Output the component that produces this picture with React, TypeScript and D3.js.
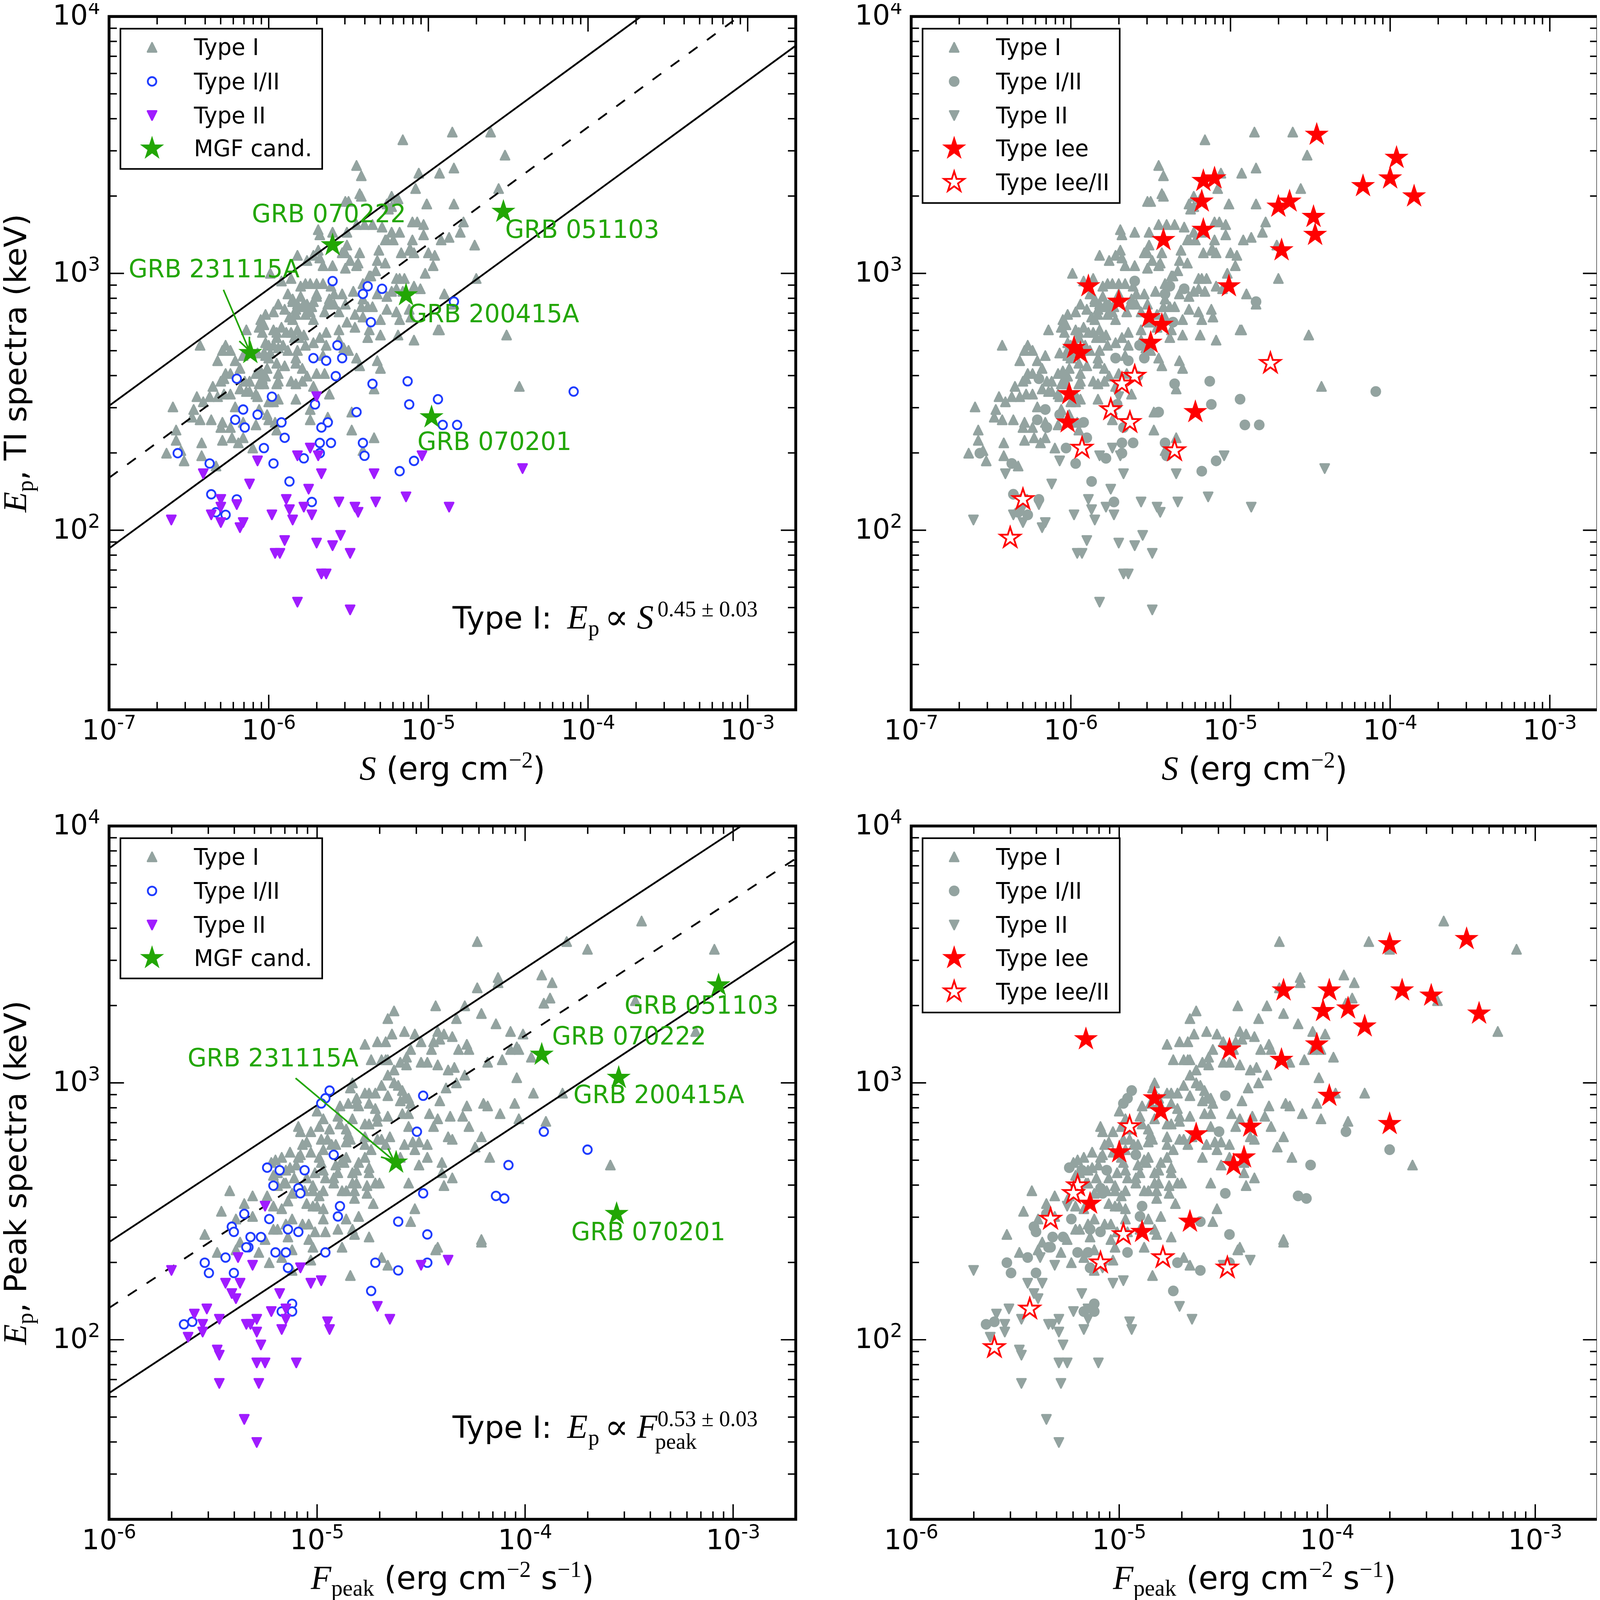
import React from 'react';
import * as d3 from 'd3';

// values are log10 readings off the reference axes: [log10 x, log10 Ep]
type Pair = [number, number];

const typeIFluence: Pair[] = [
[-5.69,3.17],[-5.68,3.15],[-5.60,3.16],[-5.51,3.16],[-5.45,3.19],[-5.40,3.19],[-5.35,3.19],[-5.29,3.18],[-5.23,3.16],[-5.18,3.16],
[-5.26,3.13],[-5.22,3.13],[-5.27,3.13],[-5.10,3.13],[-5.03,3.15],[-5.10,3.20],[-5.07,3.20],[-5.03,3.19],[-5.01,3.27],[-5.50,3.28],
[-5.25,3.25],[-5.23,3.26],[-5.42,3.30],[-5.19,3.29],[-5.82,3.07],[-5.76,3.05],[-5.72,3.07],[-5.69,3.09],[-5.68,3.06],[-5.66,3.03],
[-5.60,3.03],[-5.52,3.02],[-5.54,3.08],[-5.52,3.08],[-5.51,3.11],[-5.49,3.05],[-5.45,3.03],[-5.44,3.04],[-5.43,3.08],[-5.31,3.09],
[-5.32,3.05],[-5.27,3.04],[-5.17,3.08],[-5.12,3.09],[-5.11,3.09],[-5.09,3.08],[-5.00,3.08],[-4.96,3.07],[-4.97,3.03],[-5.02,3.00],
[-5.36,2.99],[-5.33,3.01],[-5.41,2.96],[-5.37,2.99],[-5.20,2.98],[-5.18,2.98],[-5.15,2.98],[-5.09,2.95],[-5.05,2.94],[-5.20,2.94],
[-5.23,2.93],[-5.26,2.91],[-5.16,2.93],[-5.32,2.92],[-5.41,2.90],[-5.47,2.93],[-5.54,2.92],[-5.59,2.92],[-5.61,2.95],[-5.99,3.00],
[-5.92,2.97],[-5.86,2.98],[-5.80,2.95],[-5.77,2.96],[-5.74,2.96],[-5.70,2.96],[-5.66,2.96],[-5.70,2.92],[-5.70,2.91],[-5.80,2.91],
[-5.88,2.92],[-5.85,2.90],[-5.85,2.89],[-5.82,2.88],[-5.78,2.88],[-5.76,2.88],[-5.72,2.89],[-5.73,2.87],[-5.62,2.90],[-5.59,2.88],
[-5.52,2.88],[-5.56,2.85],[-5.63,2.88],[-5.65,2.85],[-5.46,2.84],[-5.41,2.83],[-5.42,2.87],[-5.38,2.87],[-5.35,2.87],[-5.26,2.86],
[-5.20,2.85],[-5.30,2.82],[-5.18,2.82],[-5.51,2.81],[-5.46,2.79],[-5.11,2.83],[-5.12,2.86],[-4.93,2.78],[-5.09,2.74],[-5.19,2.76],
[-5.30,2.76],[-5.37,2.78],[-5.38,2.75],[-5.56,2.78],[-5.56,2.74],[-5.64,2.77],[-5.68,2.75],[-6.14,2.78],[-6.03,2.80],[-6.02,2.84],
[-5.97,2.85],[-5.94,2.88],[-5.90,2.86],[-5.87,2.83],[-5.85,2.82],[-5.83,2.84],[-5.77,2.84],[-5.74,2.85],[-5.72,2.82],[-5.82,2.78],
[-5.89,2.77],[-5.92,2.79],[-5.97,2.78],[-6.04,2.77],[-6.06,2.79],[-6.05,2.82],[-5.78,2.76],[-5.72,2.73],[-5.77,2.72],[-5.82,2.70],
[-5.91,2.72],[-5.95,2.75],[-5.97,2.72],[-6.00,2.72],[-6.02,2.73],[-5.94,2.71],[-5.88,2.70],[-6.02,2.68],[-6.00,2.67],[-5.95,2.65],
[-5.90,2.64],[-5.83,2.67],[-5.83,2.65],[-5.79,2.63],[-5.76,2.60],[-5.70,2.61],[-5.65,2.61],[-5.64,2.72],[-5.66,2.68],[-5.50,2.70],
[-5.53,2.71],[-5.45,2.67],[-5.43,2.64],[-5.32,2.66],[-5.30,2.63],[-5.72,2.56],[-5.79,2.58],[-5.83,2.57],[-5.86,2.58],[-5.94,2.61],
[-5.94,2.58],[-5.95,2.57],[-6.02,2.60],[-6.03,2.57],[-6.06,2.57],[-6.05,2.62],[-6.08,2.61],[-6.01,2.63],[-6.21,2.66],[-6.18,2.63],
[-6.27,2.61],[-6.24,2.61],[-6.28,2.59],[-6.30,2.58],[-6.35,2.56],[-6.24,2.53],[-6.28,2.53],[-6.32,2.52],[-6.37,2.52],[-6.41,2.50],
[-6.45,2.52],[-6.60,2.48],[-6.47,2.47],[-6.48,2.44],[-6.43,2.43],[-6.36,2.43],[-6.29,2.42],[-6.30,2.40],[-6.24,2.40],[-6.58,2.39],
[-6.58,2.35],[-6.64,2.30],[-6.55,2.31],[-6.53,2.27],[-6.42,2.34],[-6.42,2.29],[-6.33,2.25],[-6.29,2.35],[-6.23,2.36],[-6.19,2.34],
[-6.16,2.36],[-6.21,2.48],[-6.16,2.42],[-6.18,2.55],[-6.15,2.58],[-6.12,2.58],[-6.12,2.54],[-6.08,2.53],[-6.07,2.52],[-5.94,2.51],
[-5.97,2.50],[-6.00,2.50],[-5.83,2.51],[-6.06,2.47],[-6.01,2.45],[-6.00,2.43],[-5.96,2.42],[-6.08,2.41],[-5.95,2.39],[-6.10,2.32],
[-5.62,2.53],[-5.74,2.47],[-5.63,2.44],[-5.74,2.43],[-5.48,2.39],[-5.48,2.46],[-5.34,2.55],[-5.34,2.36],[-5.41,2.31],[-6.32,2.66],
[-6.29,2.70],[-6.27,2.72],[-6.24,2.70],[-6.16,2.68],[-6.07,2.69],[-6.03,2.69],[-6.43,2.72],[-5.83,2.86],[-5.79,2.87],[-5.75,2.86],
[-5.95,2.77],[-5.86,2.77],[-5.84,2.75],[-5.81,2.75],[-5.99,2.69],[-6.04,2.59],[-6.14,2.54],
[-5.16,3.52],[-4.85,3.55],[-4.61,3.55],[-4.52,3.46],[-4.84,3.41],[-4.93,3.39],[-5.06,3.39],[-5.08,3.33],[-5.45,3.42],[-5.42,3.38],
[-5.43,3.31],[-5.52,3.28],[-5.23,3.30],[-5.26,3.27],[-4.56,3.33],[-5.01,3.27],[-4.84,3.27],[-4.78,3.20],[-4.80,3.16],[-4.87,3.14],
[-4.92,3.13],[-4.71,3.11],[-4.70,2.98],[-4.90,2.92],[-4.94,2.78],[-4.51,2.76],[-4.43,2.56],[-4.84,2.88],
];
const typeIIIFluence: Pair[] = [
[-5.60,2.97],[-5.38,2.95],[-5.29,2.94],[-5.41,2.92],[-5.36,2.81],[-5.57,2.72],[-5.72,2.67],[-5.64,2.66],[-5.54,2.67],[-5.58,2.60],
[-6.20,2.59],[-5.98,2.52],[-5.35,2.57],[-5.13,2.58],[-5.12,2.49],[-4.94,2.51],[-5.71,2.49],[-6.16,2.47],[-6.07,2.45],[-6.21,2.43],
[-6.15,2.40],[-5.92,2.42],[-5.45,2.46],[-5.63,2.42],[-5.67,2.40],[-5.90,2.36],[-5.68,2.34],[-5.61,2.34],[-5.41,2.34],[-5.40,2.29],
[-6.03,2.32],[-6.57,2.30],[-6.37,2.26],[-5.97,2.26],[-5.78,2.28],[-5.68,2.30],[-5.09,2.27],[-5.18,2.23],[-5.87,2.19],[-4.91,2.41],
[-4.84,2.89],[-4.09,2.54],[-4.82,2.41],[-6.36,2.14],[-5.73,2.11],[-6.20,2.12],[-6.33,2.07],[-6.27,2.06],
];
const typeIIFluence: Pair[] = [
[-6.61,2.04],[-6.41,2.22],[-6.30,2.12],[-6.30,2.09],[-6.36,2.06],[-6.30,2.03],[-6.20,2.10],[-6.16,2.03],[-6.18,2.01],[-6.12,2.18],
[-6.07,2.27],[-5.98,2.06],[-5.89,2.12],[-5.87,2.08],[-5.85,2.04],[-5.90,1.96],[-5.96,1.91],[-5.93,1.91],[-5.82,2.29],[-5.74,2.32],
[-5.69,2.29],[-5.67,2.22],[-5.75,2.16],[-5.78,2.09],[-5.73,2.06],[-5.70,2.52],[-5.70,1.95],[-5.60,1.94],[-5.55,1.98],[-5.56,2.11],
[-5.46,2.09],[-5.44,2.07],[-5.34,2.22],[-5.33,2.11],[-5.49,1.91],[-5.67,1.83],[-5.64,1.83],[-5.82,1.72],[-5.49,1.69],[-5.14,2.13],
[-4.87,2.09],[-5.04,2.29],[-4.41,2.24],
];
const mgfFluence: Pair[] = [[-5.60,3.11],[-4.53,3.24],[-5.14,2.915],[-6.115,2.69],[-4.98,2.44]];
const iePeakFluence: Pair[] = [
[-4.46,3.54],[-3.96,3.45],[-4.00,3.37],[-4.17,3.34],[-3.85,3.30],[-5.17,3.36],[-5.10,3.37],[-5.18,3.28],[-4.70,3.26],[-4.63,3.28],
[-4.48,3.22],[-4.47,3.15],[-5.17,3.17],[-5.42,3.13],[-4.68,3.09],[-5.01,2.95],[-5.89,2.95],[-5.70,2.89],[-5.51,2.83],[-5.43,2.80],
[-5.50,2.73],[-5.98,2.71],[-5.94,2.69],[-6.01,2.53],[-6.02,2.42],[-5.22,2.46],
];
const ieIIFluence: Pair[] = [
[-4.75,2.65],[-5.60,2.60],[-5.68,2.57],[-5.75,2.47],[-5.63,2.42],[-5.93,2.32],[-5.35,2.31],[-6.30,2.12],[-6.38,1.97],
];

const typeIPeak: Pair[] = [
[-4.77,3.15],[-4.71,3.16],[-4.67,3.16],[-4.64,3.19],[-4.58,3.20],[-4.53,3.19],[-4.50,3.16],[-4.42,3.20],[-4.44,3.16],[-4.41,3.17],
[-4.39,3.19],[-4.35,3.18],[-4.45,3.13],[-4.55,3.13],[-4.57,3.10],[-4.60,3.08],[-4.57,3.07],[-4.50,3.08],[-4.47,3.08],[-4.42,3.07],
[-4.32,3.13],[-4.28,3.15],[-4.27,3.13],[-4.14,3.23],[-4.07,3.20],[-4.01,3.19],[-4.07,3.13],[-4.04,3.14],[-4.03,3.13],[-3.97,3.10],
[-4.74,3.09],[-4.69,3.09],[-4.67,3.09],[-4.66,3.09],[-4.63,3.05],[-4.66,3.03],[-4.69,2.99],[-4.66,2.95],[-4.63,3.00],[-4.61,2.99],
[-4.59,2.97],[-4.56,2.94],[-4.55,2.92],[-4.60,2.93],[-4.58,2.94],[-4.83,3.00],[-4.84,2.98],[-4.77,2.96],[-4.75,2.96],[-4.72,2.96],
[-4.81,2.94],[-4.85,2.92],[-4.89,2.91],[-4.81,2.92],[-4.75,2.92],[-4.72,2.90],[-4.80,2.91],[-4.66,2.87],[-4.59,2.88],[-4.56,2.88],
[-4.71,2.87],[-4.71,2.85],[-4.75,2.84],[-4.77,2.84],[-4.83,2.86],[-4.86,2.82],[-4.89,2.84],[-4.90,2.87],[-4.56,2.83],[-4.46,2.88],
[-4.42,2.86],[-4.36,2.87],[-4.30,2.87],[-4.34,3.06],[-4.37,3.05],[-4.29,3.03],[-4.33,3.00],[-4.38,2.98],[-4.41,2.93],[-4.44,2.83],
[-4.37,2.79],[-4.35,2.78],[-4.21,2.79],[-4.24,2.75],[-4.17,2.71],[-4.20,2.92],[-4.18,2.91],[-4.05,2.92],[-4.12,2.88],[-4.03,2.86],
[-4.04,3.02],[-4.18,3.08],[-4.11,3.09],[-4.28,2.91],[-4.27,2.83],[-4.54,2.77],[-4.51,2.77],[-4.47,2.76],[-4.58,2.76],[-4.53,2.74],
[-4.47,2.71],[-4.51,2.68],[-4.40,2.69],[-4.40,2.65],[-4.35,2.63],[-4.39,2.60],[-4.56,2.61],[-4.53,2.51],[-4.55,2.46],[-4.42,2.36],
[-4.21,2.39],[-4.75,2.40],[-4.82,2.41],[-4.83,2.43],[-4.88,2.36],[-4.84,2.25],[-4.69,2.32],[-4.66,2.29],[-5.03,2.31],[-4.90,2.43],
[-4.96,2.42],[-5.01,2.42],[-5.04,2.45],[-5.07,2.45],[-5.04,2.39],[-5.02,2.36],[-4.86,2.47],[-4.80,2.48],[-4.97,2.47],[-4.97,2.51],
[-5.00,2.52],[-5.02,2.52],[-5.05,2.53],[-5.17,2.51],[-5.14,2.54],[-5.21,2.52],[-5.24,2.56],[-5.31,2.56],[-5.31,2.48],[-5.12,2.47],
[-5.15,2.45],[-5.19,2.43],[-5.21,2.43],[-5.14,2.40],[-5.25,2.39],[-5.28,2.34],[-5.23,2.30],[-5.17,2.32],[-5.12,2.35],[-5.12,2.27],
[-4.81,2.61],[-4.82,2.55],[-4.82,2.58],[-4.86,2.58],[-4.88,2.58],[-4.76,2.57],[-4.73,2.53],[-4.83,2.61],[-4.76,2.60],[-4.72,2.61],
[-4.70,2.61],[-4.92,2.61],[-4.92,2.63],[-4.96,2.63],[-4.99,2.56],[-5.02,2.58],[-5.02,2.60],[-4.97,2.58],[-5.06,2.58],[-5.12,2.57],
[-5.16,2.61],[-5.19,2.60],[-5.15,2.61],[-5.11,2.63],[-5.19,2.65],[-5.21,2.64],[-5.15,2.66],[-5.13,2.67],[-5.10,2.68],[-5.09,2.71],
[-5.08,2.72],[-5.13,2.73],[-5.17,2.71],[-5.20,2.70],[-5.22,2.69],[-5.05,2.63],[-5.01,2.65],[-4.97,2.66],[-4.90,2.65],[-4.88,2.70],
[-4.83,2.65],[-4.81,2.66],[-4.75,2.67],[-4.75,2.65],[-4.80,2.69],[-4.77,2.71],[-4.91,2.68],[-4.98,2.69],[-5.03,2.73],[-5.07,2.76],
[-5.05,2.77],[-5.08,2.81],[-5.09,2.83],[-5.03,2.81],[-4.99,2.83],[-4.94,2.82],[-4.97,2.86],[-5.00,2.89],[-4.98,2.78],[-4.95,2.78],
[-4.93,2.76],[-4.91,2.76],[-4.86,2.77],[-4.85,2.80],[-4.84,2.78],[-4.77,2.79],[-4.77,2.76],[-4.74,2.74],[-4.71,2.78],[-4.69,2.78],
[-4.65,2.79],[-4.67,2.76],[-4.60,2.71],[-4.97,2.74],[-4.99,2.71],[-4.87,2.69],[-4.86,2.71],
[-4.23,3.55],[-4.23,3.37],[-4.13,3.41],[-4.13,3.39],[-4.43,3.30],[-4.29,3.30],[-4.21,3.27],[-4.33,3.25],[-4.63,3.28],[-4.66,3.25],
[-3.92,3.42],[-3.87,3.39],[-3.88,3.33],[-3.91,3.31],[-3.80,3.55],[-3.70,3.52],[-3.44,3.63],[-3.09,3.52],[-3.47,3.32],[-3.18,3.20],
[-3.96,2.96],[-3.82,2.96],[-3.90,2.85],[-3.59,2.68],[-4.21,2.38],[-4.43,2.35],
[-5.42,2.58],[-5.46,2.50],[-5.54,2.41],[-5.48,2.34],[-5.39,2.35],[-5.35,2.53],[-5.39,2.47],[-5.37,2.38],
];
const typeIIIPeak: Pair[] = [
[-4.94,2.97],[-4.96,2.94],[-4.98,2.92],[-4.49,2.95],[-4.52,2.81],[-4.92,2.72],[-5.24,2.67],[-5.18,2.66],[-5.06,2.66],[-5.21,2.60],
[-5.09,2.59],[-5.08,2.57],[-4.08,2.68],[-4.49,2.57],[-4.14,2.56],[-4.10,2.55],[-4.89,2.52],[-4.90,2.48],[-5.23,2.47],[-5.14,2.43],
[-5.09,2.42],[-5.27,2.40],[-5.32,2.40],[-5.33,2.36],[-5.20,2.34],[-5.15,2.34],[-4.96,2.34],[-4.61,2.46],[-4.47,2.41],[-5.14,2.28],
[-4.72,2.30],[-4.61,2.27],[-4.47,2.30],[-4.74,2.19],[-5.12,2.14],[-3.91,2.81],[-3.70,2.74],[-5.64,2.06],[-5.60,2.07],[-5.54,2.30],
[-5.52,2.26],[-5.44,2.32],[-5.41,2.44],[-5.40,2.42],[-5.35,2.49],[-5.34,2.36],[-5.40,2.26],[-5.17,2.11],[-5.12,2.11],
];
const typeIIPeak: Pair[] = [
[-5.70,2.27],[-5.62,2.01],[-5.59,2.10],[-5.55,2.06],[-5.55,2.03],[-5.53,2.12],[-5.47,2.08],[-5.48,1.96],[-5.47,1.94],[-5.47,1.83],
[-5.44,2.22],[-5.41,2.18],[-5.39,2.16],[-5.37,2.22],[-5.38,2.32],[-5.31,2.29],[-5.35,1.69],[-5.29,1.60],[-5.34,2.06],[-5.32,2.06],
[-5.29,2.08],[-5.29,2.03],[-5.27,1.98],[-5.29,1.91],[-5.25,1.91],[-5.28,1.83],[-5.25,2.52],[-5.22,2.11],[-5.17,2.04],[-5.15,2.12],
[-5.15,2.08],[-5.18,2.18],[-5.10,1.91],[-5.08,2.28],[-5.03,2.22],[-4.98,2.23],[-4.95,2.07],[-4.94,2.04],[-4.71,2.13],[-4.65,2.08],
[-4.50,2.29],[-4.37,2.31],
];
const mgfPeak: Pair[] = [[-3.07,3.38],[-3.92,3.11],[-3.55,3.02],[-4.62,2.69],[-3.56,2.49]];
const iePeak: Pair[] = [
[-3.70,3.54],[-3.33,3.56],[-4.21,3.36],[-3.99,3.36],[-3.64,3.36],[-3.50,3.34],[-4.02,3.28],[-3.90,3.29],[-3.27,3.27],[-3.82,3.22],
[-5.16,3.17],[-4.05,3.15],[-4.47,3.13],[-4.22,3.09],[-4.83,2.94],[-3.99,2.95],[-4.80,2.89],[-4.37,2.83],[-3.70,2.84],[-4.63,2.80],
[-5.00,2.73],[-4.40,2.71],[-4.45,2.68],[-5.14,2.53],[-4.66,2.46],[-4.89,2.42],
];
const ieIIPeak: Pair[] = [
[-4.95,2.83],[-5.20,2.60],[-5.22,2.57],[-5.33,2.47],[-4.98,2.41],[-4.79,2.32],[-5.09,2.30],[-4.48,2.28],[-5.43,2.12],[-5.60,1.97],
];

// fit lines, end points in axis units
const fitFluence: [number, number][][] = [
  [[1e-7, 305], [2e-3, 27600]],
  [[1e-7, 160], [2e-3, 14500]],
  [[1e-7, 85], [2e-3, 7700]],
];
const fitPeak: [number, number][][] = [
  [[1e-6, 240], [2e-3, 13800]],
  [[1e-6, 133], [2e-3, 7470]],
  [[1e-6, 62], [2e-3, 3580]],
];
const mgfNames = ['GRB 070222', 'GRB 051103', 'GRB 200415A', 'GRB 231115A', 'GRB 070201'];
const mgfNamesPeak = ['GRB 051103', 'GRB 070222', 'GRB 200415A', 'GRB 231115A', 'GRB 070201'];

const W = 4504;
const H = 4461;
const SIZE = 1933;
const GREY = '#93a3a0';
const BLUE = '#1f3cff';
const PURPLE = '#a01cff';
const GREEN = '#22a604';
const RED = '#ff0000';
const SANS = '"DejaVu Sans"';
const SERIF = '"Liberation Serif"';

const triUp = { draw(c: any, s: number) { const r = Math.sqrt(s) / 2; c.moveTo(0, -r); c.lineTo(r, r); c.lineTo(-r, r); c.closePath(); } };
const triDown = { draw(c: any, s: number) { const r = Math.sqrt(s) / 2; c.moveTo(0, r); c.lineTo(r, -r); c.lineTo(-r, -r); c.closePath(); } };
const triPath = d3.symbol(triUp as any, 25 * 25)() as string;
const downPath = d3.symbol(triDown as any, 25 * 25)() as string;
const starPath = d3.symbol(d3.symbolStar, 1000)() as string;

type Kind = 'up' | 'down' | 'ring' | 'disc' | 'star' | 'hollow';

const Marker = ({ kind, color, x, y }: { kind: Kind; color: string; x: number; y: number }) => {
  const t = `translate(${x},${y})`;
  if (kind === 'up') return <path d={triPath} transform={t} fill={color} stroke={color} strokeWidth={5} strokeLinejoin="round" />;
  if (kind === 'down') return <path d={downPath} transform={t} fill={color} stroke={color} strokeWidth={5} strokeLinejoin="round" />;
  if (kind === 'ring') return <circle cx={x} cy={y} r={12} fill="#fff" stroke={color} strokeWidth={5} />;
  if (kind === 'disc') return <circle cx={x} cy={y} r={15} fill={color} />;
  if (kind === 'star') return <path d={starPath} transform={t} fill={color} stroke={color} strokeWidth={3.5} />;
  return <path d={starPath} transform={t} fill="#fff" stroke={color} strokeWidth={5} />;
};

interface Series { name: string; kind: Kind; color: string; data: Pair[] }
interface Callout { name: string; dx: number; dy: number }

interface PanelProps {
  left: number;
  top: number;
  xDomain: [number, number];
  below: Series[];
  above: Series[];
  fits?: [number, number][][];
  callouts?: Callout[];
  calloutData?: Pair[];
  arrowFrom?: [number, number];
  arrowIndex?: number;
  yName?: string;
  xLabel: React.ReactNode;
  formula?: React.ReactNode;
}

const isDecade = (t: number) => Math.abs(Math.log10(t) - Math.round(Math.log10(t))) < 1e-6;

const Panel = (p: PanelProps) => {
  const { left, top } = p;
  const right = left + SIZE;
  const bottom = top + SIZE;
  const xs = d3.scaleLog().domain(p.xDomain).range([left, right]);
  const ys = d3.scaleLog().domain([20, 1e4]).range([bottom, top]);
  const line = d3.line<[number, number]>().x((d) => xs(d[0])).y((d) => ys(d[1]));
  const clip = `clip-${left}-${top}`;
  const all = [...p.below, ...p.above];

  const dots = (s: Series) =>
    s.data.map((d, i) => <Marker key={i} kind={s.kind} color={s.color} x={xs(10 ** d[0])} y={ys(10 ** d[1])} />);

  let arrow: React.ReactNode = null;
  if (p.arrowFrom && p.calloutData && p.arrowIndex !== undefined) {
    const target = p.calloutData[p.arrowIndex];
    const x0 = left + p.arrowFrom[0];
    const y0 = top + p.arrowFrom[1];
    const tx = xs(10 ** target[0]);
    const ty = ys(10 ** target[1]);
    const ang = Math.atan2(ty - y0, tx - x0);
    const x1 = tx - 8 * Math.cos(ang);
    const y1 = ty - 8 * Math.sin(ang);
    const barb = (a: number) => `M${x1 - 38 * Math.cos(ang + a)},${y1 - 38 * Math.sin(ang + a)}L${x1},${y1}`;
    arrow = (
      <path
        d={`M${x0},${y0}L${x1},${y1}${barb(0.42)}${barb(-0.42)}`}
        fill="none"
        stroke={GREEN}
        strokeWidth={4.5}
      />
    );
  }

  return (
    <g>
      <clipPath id={clip}><rect x={left} y={top} width={SIZE} height={SIZE} /></clipPath>
      <g clipPath={`url(#${clip})`}>
        {p.below.map((s) => <g key={s.name}>{dots(s)}</g>)}
        {p.fits && p.fits.map((f, i) => (
          <path key={i} d={line(f) as string} fill="none" stroke="#000" strokeWidth={5} strokeDasharray={i === 1 ? '30,33' : undefined} />
        ))}
        {p.above.map((s) => <g key={s.name}>{dots(s)}</g>)}
      </g>
      {arrow}
      {p.callouts && p.callouts.map((c) => (
        <text key={c.name} x={left + c.dx} y={top + c.dy} fill={GREEN} fontFamily={SANS} fontSize={69}>{c.name}</text>
      ))}

      {/* ticks on all four sides */}
      {xs.ticks().map((t) => {
        const len = isDecade(t) ? 42 : 22;
        return (
          <g key={t} stroke="#000" strokeWidth={4}>
            <line x1={xs(t)} x2={xs(t)} y1={bottom} y2={bottom - len} />
            <line x1={xs(t)} x2={xs(t)} y1={top} y2={top + len} />
          </g>
        );
      })}
      {ys.ticks().map((t) => {
        const len = isDecade(t) ? 42 : 22;
        return (
          <g key={t} stroke="#000" strokeWidth={4}>
            <line y1={ys(t)} y2={ys(t)} x1={left} x2={left + len} />
            <line y1={ys(t)} y2={ys(t)} x1={right} x2={right - len} />
          </g>
        );
      })}
      {xs.ticks().filter(isDecade).map((t) => (
        <text key={t} x={xs(t)} y={bottom + 83} textAnchor="middle" fontFamily={SANS} fontSize={78}>
          10<tspan fontSize={54} dy={-30}>{Math.round(Math.log10(t))}</tspan>
        </text>
      ))}
      {ys.ticks().filter(isDecade).map((t) => (
        <text key={t} x={left - 25} y={ys(t) + 23} textAnchor="end" fontFamily={SANS} fontSize={78}>
          10<tspan fontSize={54} dy={-30}>{Math.round(Math.log10(t))}</tspan>
        </text>
      ))}

      {/* axis labels */}
      <text x={(left + right) / 2} y={bottom + 195} textAnchor="middle" fontFamily={SANS} fontSize={89}>{p.xLabel}</text>
      {p.yName && (
        <text transform={`translate(${left - 233},${(top + bottom) / 2}) rotate(-90)`} textAnchor="middle" fontFamily={SANS} fontSize={87}>
          <tspan fontFamily={SERIF} fontStyle="italic" fontSize={94}>E</tspan>
          <tspan fontFamily={SERIF} fontSize={64} dy={18}>p</tspan>
          <tspan dy={-18}>, {p.yName} spectra (keV)</tspan>
        </text>
      )}
      {p.formula}

      {/* legend */}
      <rect
        x={left + 32}
        y={top + 34}
        width={all.length === 4 ? 568 : 555}
        height={all.length === 4 ? 391 : 486}
        fill="#fff"
        stroke="#000"
        strokeWidth={4.5}
      />
      {all.map((s, i) => {
        const ry = top + [86, 181, 276, 368, 462][i];
        return (
          <g key={s.name}>
            <Marker kind={s.kind} color={s.color} x={left + 121} y={ry} />
            <text x={left + 239} y={ry + 22} fontFamily={SANS} fontSize={63}>{s.name}</text>
          </g>
        );
      })}

      <rect x={left} y={top} width={SIZE} height={SIZE} fill="none" stroke="#000" strokeWidth={8} />
    </g>
  );
};

const sup = (s: string) => (
  <>
    <tspan fontFamily={SERIF} fontSize={64} dy={-34}>{s}</tspan>
  </>
);

const formula = (left: number, top: number, peak: boolean) => {
  const y = top + 1706;
  return (
    <g fontFamily={SERIF} fontSize={94}>
      <text x={left + 967} y={y} fontFamily={SANS} fontSize={86}>Type I:</text>
      <text x={left + 1290} y={y} fontStyle="italic">E</text>
      <text x={left + 1349} y={y + 20} fontSize={62}>p</text>
      <text x={left + 1395} y={y + 3} fontFamily='"DejaVu Serif"' fontSize={100}>∝</text>
      <text x={left + 1486} y={y} fontStyle="italic">{peak ? 'F' : 'S'}</text>
      <text x={left + 1544} y={y - 33} fontSize={62}>{peak ? '0.53 ± 0.03' : '0.45 ± 0.03'}</text>
      {peak && <text x={left + 1537} y={y + 30} fontSize={62}>peak</text>}
    </g>
  );
};

const fluenceLabel = (
  <>
    <tspan fontFamily={SERIF} fontStyle="italic" fontSize={94}>S</tspan>
    <tspan> (erg cm</tspan>
    {sup('−2')}
    <tspan dy={34}>)</tspan>
  </>
);
const peakLabel = (
  <>
    <tspan fontFamily={SERIF} fontStyle="italic" fontSize={94}>F</tspan>
    <tspan fontFamily={SERIF} fontSize={64} dy={18}>peak</tspan>
    <tspan dy={-18}> (erg cm</tspan>
    {sup('−2')}
    <tspan dy={34}> s</tspan>
    {sup('−1')}
    <tspan dy={34}>)</tspan>
  </>
);

const leftSeries = (i: Pair[], m: Pair[], ii: Pair[], g: Pair[]) => ({
  below: [{ name: 'Type I', kind: 'up' as Kind, color: GREY, data: i }],
  above: [
    { name: 'Type I/II', kind: 'ring' as Kind, color: BLUE, data: m },
    { name: 'Type II', kind: 'down' as Kind, color: PURPLE, data: ii },
    { name: 'MGF cand.', kind: 'star' as Kind, color: GREEN, data: g },
  ],
});
const rightSeries = (i: Pair[], m: Pair[], ii: Pair[], r: Pair[], h: Pair[]) => ({
  below: [
    { name: 'Type I', kind: 'up' as Kind, color: GREY, data: i },
    { name: 'Type I/II', kind: 'disc' as Kind, color: GREY, data: m },
    { name: 'Type II', kind: 'down' as Kind, color: GREY, data: ii },
  ],
  above: [
    { name: 'Type Iee', kind: 'star' as Kind, color: RED, data: r },
    { name: 'Type Iee/II', kind: 'hollow' as Kind, color: RED, data: h },
  ],
});

export default function App() {
  const fluenceOffsets: [number, number][] = [[402, 574], [1115, 617], [842, 853], [55, 727], [868, 1209]];
  const peakOffsets: [number, number][] = [[1451, 523], [1247, 609], [1307, 773], [221, 670], [1301, 1155]];
  // the browser window can be smaller than the chart, so fit the drawing into it
  const outW = Math.min(window.innerWidth, W);
  const outH = Math.min(window.innerHeight, H);
  return (
    <svg
      width={outW}
      height={outH}
      viewBox={`0 0 ${W} ${H}`}
      preserveAspectRatio="none"
      style={{ display: 'block', margin: '-8px 0 0 -8px', background: '#fff' }}
    >
      <Panel
        left={307}
        top={46}
        xDomain={[1e-7, 2e-3]}
        {...leftSeries(typeIFluence, typeIIIFluence, typeIIFluence, mgfFluence)}
        fits={fitFluence}
        callouts={mgfNames.map((name, i) => ({ name, dx: fluenceOffsets[i][0], dy: fluenceOffsets[i][1] }))}
        calloutData={mgfFluence}
        arrowFrom={[322, 762]}
        arrowIndex={3}
        yName="TI"
        xLabel={fluenceLabel}
        formula={formula(307, 46, false)}
      />
      <Panel
        left={2565}
        top={46}
        xDomain={[1e-7, 2e-3]}
        {...rightSeries(typeIFluence, typeIIIFluence, typeIIFluence, iePeakFluence, ieIIFluence)}
        xLabel={fluenceLabel}
      />
      <Panel
        left={307}
        top={2303}
        xDomain={[1e-6, 2e-3]}
        {...leftSeries(typeIPeak, typeIIIPeak, typeIIPeak, mgfPeak)}
        fits={fitPeak}
        callouts={mgfNamesPeak.map((name, i) => ({ name, dx: peakOffsets[i][0], dy: peakOffsets[i][1] }))}
        calloutData={mgfPeak}
        arrowFrom={[525, 703]}
        arrowIndex={3}
        yName="Peak"
        xLabel={peakLabel}
        formula={formula(307, 2303, true)}
      />
      <Panel
        left={2565}
        top={2303}
        xDomain={[1e-6, 2e-3]}
        {...rightSeries(typeIPeak, typeIIIPeak, typeIIPeak, iePeak, ieIIPeak)}
        xLabel={peakLabel}
      />
    </svg>
  );
}
